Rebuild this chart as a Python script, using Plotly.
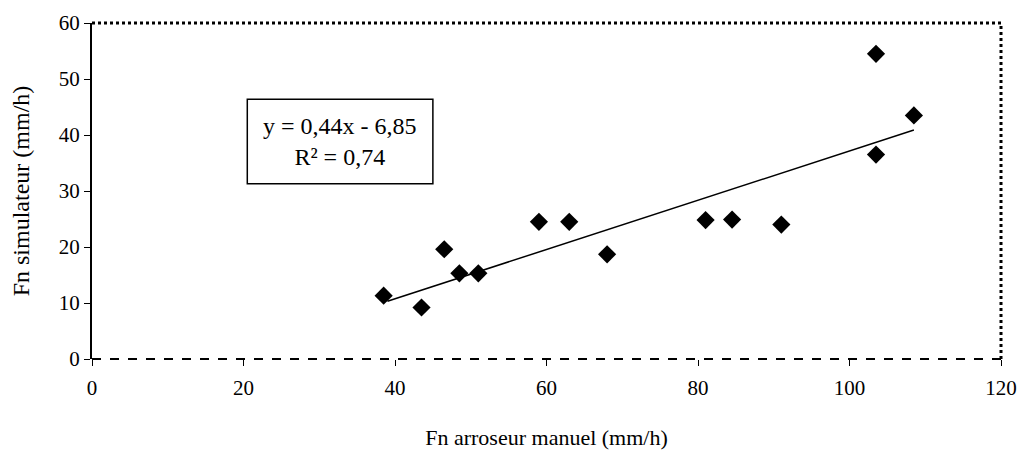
import plotly.graph_objects as go

x_manuel = [38.5, 43.5, 46.5, 48.5, 51.0, 59.0, 63.0, 68.0, 81.0, 84.5, 91.0, 103.5, 103.5, 108.5]
y_simul = [11.3, 9.2, 19.6, 15.3, 15.3, 24.5, 24.5, 18.7, 24.8, 24.9, 24.0, 54.5, 36.5, 43.5]
slope = 0.44
intercept = -6.85
trend_x = [39.0, 108.5]
eq_lines = ["y = 0,44x - 6,85", "R² = 0,74"]
x_ticks = [0, 20, 40, 60, 80, 100, 120]
y_ticks = [0, 10, 20, 30, 40, 50, 60]

FONT = "Liberation Serif"

fig = go.Figure()
fig.add_trace(go.Scatter(
    x=x_manuel, y=y_simul, mode="markers",
    marker=dict(symbol="diamond", size=14, color="black"),
    showlegend=False,
))
fig.add_trace(go.Scatter(
    x=trend_x, y=[slope * v + intercept for v in trend_x], mode="lines",
    line=dict(color="black", width=1.5),
    showlegend=False,
))

# frame: dotted top and right, dashed bottom
fig.add_shape(type="line", xref="paper", yref="paper", x0=0, x1=1, y0=1, y1=1,
              line=dict(color="black", width=3, dash="dot"))
fig.add_shape(type="line", xref="paper", yref="paper", x0=1, x1=1, y0=0, y1=1,
              line=dict(color="black", width=3, dash="dot"))
fig.add_shape(type="line", xref="paper", yref="paper", x0=0, x1=1, y0=0, y1=0,
              line=dict(color="black", width=2, dash="dash"))

# equation box
fig.add_shape(type="rect", xref="x", yref="y", x0=20.5, x1=45.0, y0=31.3, y1=46.4,
              line=dict(color="black", width=1.5), fillcolor="white", layer="above")
fig.add_annotation(x=32.75, y=38.85, xref="x", yref="y",
                   text="<br>".join(eq_lines), showarrow=False,
                   font=dict(family=FONT, size=24, color="black"), align="center")

fig.update_layout(
    width=1021, height=451,
    margin=dict(l=92, r=20, t=23, b=92, autoexpand=False),
    paper_bgcolor="white", plot_bgcolor="white",
    font=dict(family=FONT, size=20, color="black"),
    xaxis=dict(range=[0, 120], tickvals=x_ticks, showgrid=False, zeroline=False,
               showline=False, ticks="outside", ticklen=6, tickcolor="black",
               ticklabeloverflow="allow", ticklabelstandoff=4,
               tickfont=dict(family=FONT, size=21, color="black"),
               title=dict(text="Fn arroseur manuel (mm/h)",
                          font=dict(family=FONT, size=22, color="black"), standoff=30)),
    yaxis=dict(range=[0, 60], tickvals=y_ticks, showgrid=False, zeroline=False,
               showline=True, linecolor="black", linewidth=2,
               ticks="outside", ticklen=6, tickcolor="black",
               tickfont=dict(family=FONT, size=21, color="black"),
               title=dict(text="Fn simulateur (mm/h)",
                          font=dict(family=FONT, size=24, color="black"), standoff=22)),
)

fig.write_html("out.html")
